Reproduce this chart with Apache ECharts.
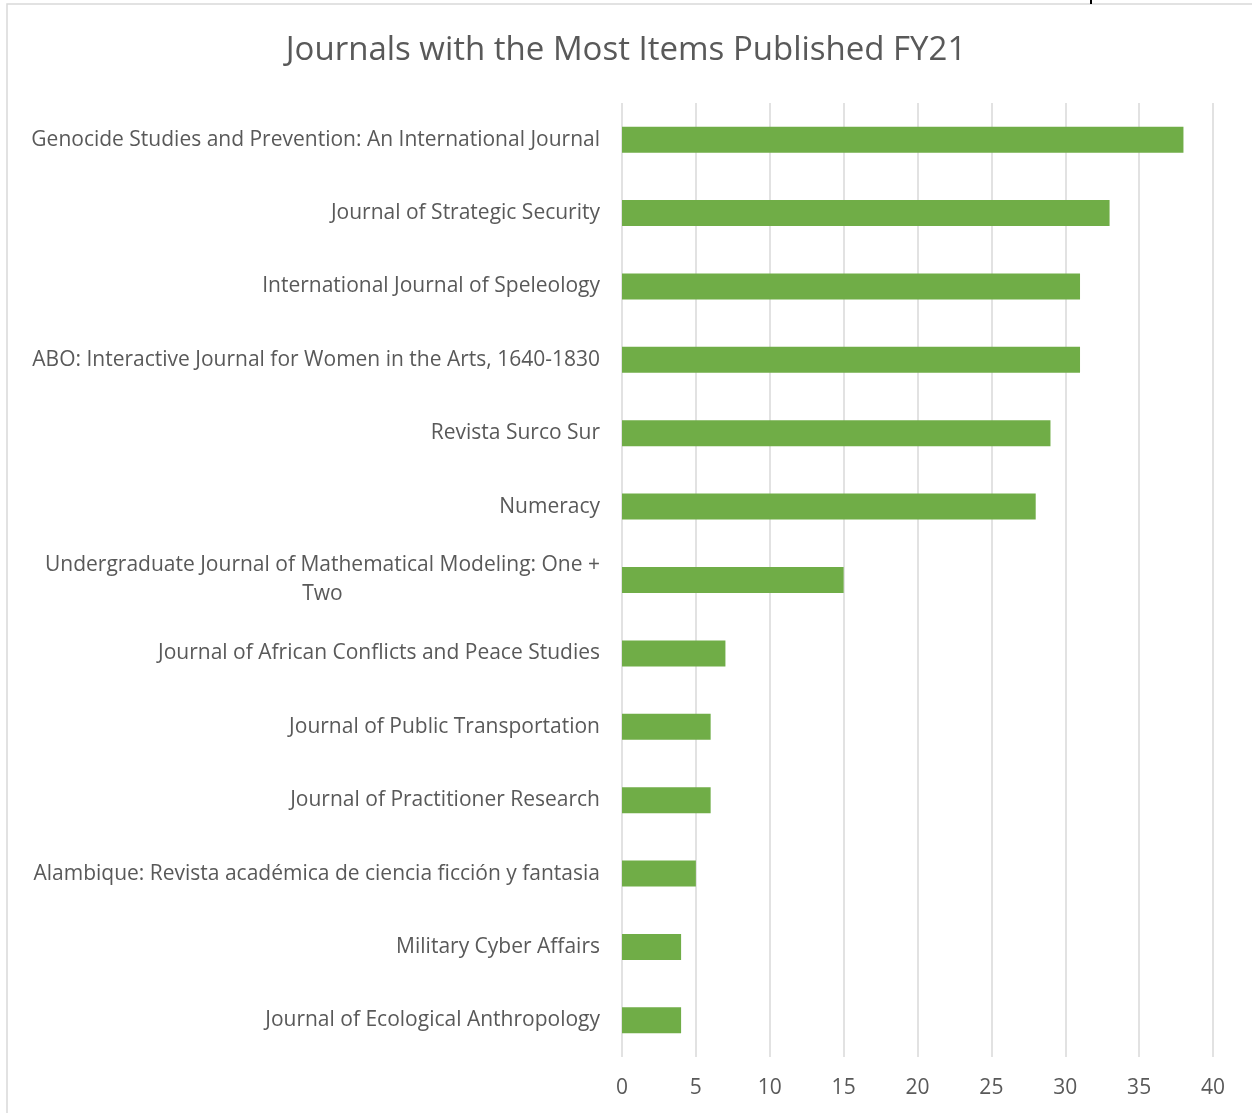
<!DOCTYPE html>
<html>
<head>
<meta charset="utf-8">
<script src="https://cdn.jsdelivr.net/npm/echarts@6/dist/echarts.min.js"></script>
<style>
html, body { margin: 0; padding: 0; background: #fff; }
#main { width: 1252px; height: 1113px; }
</style>
</head>
<body>
<div id="main"></div>
<script>
var journals = [
    'Genocide Studies and Prevention: An International Journal',
    'Journal of Strategic Security',
    'International Journal of Speleology',
    'ABO: Interactive Journal for Women in the Arts, 1640-1830',
    'Revista Surco Sur',
    'Numeracy',
    'Undergraduate Journal of Mathematical Modeling: One +\nTwo',
    'Journal of African Conflicts and Peace Studies',
    'Journal of Public Transportation',
    'Journal of Practitioner Research',
    'Alambique: Revista académica de ciencia ficción y fantasia',
    'Military Cyber Affairs',
    'Journal of Ecological Anthropology'
];
var items = [38, 33, 31, 31, 29, 28, 15, 7, 6, 6, 5, 4, 4];

var textColor = '#595959';
var gridColor = '#D9D9D9';
var font = '"Open Sans", sans-serif';

echarts.init(document.getElementById('main')).setOption({
    animation: false,
    title: {
        text: 'Journals with the Most Items Published FY21',
        left: 'center',
        top: 29,
        textStyle: {
            color: textColor,
            fontSize: 33,
            fontWeight: 'normal',
            fontFamily: font
        }
    },
    graphic: [{
        type: 'polyline',
        shape: { points: [[7, 1113], [7, 4], [1252, 4]] },
        style: { stroke: gridColor, lineWidth: 1.5, fill: null }
    }, {
        type: 'line',
        shape: { x1: 1091, y1: 0, x2: 1091, y2: 4 },
        style: { stroke: '#000', lineWidth: 2 }
    }],
    grid: {
        left: 622,
        right: 39,
        top: 103,
        bottom: 56
    },
    xAxis: {
        type: 'value',
        min: 0,
        max: 40,
        interval: 5,
        axisLine: { show: false },
        axisTick: { show: false },
        axisLabel: {
            color: textColor,
            fontSize: 21,
            fontFamily: font,
            margin: 21
        },
        splitLine: {
            lineStyle: { color: gridColor, width: 1.5 }
        }
    },
    yAxis: {
        type: 'category',
        inverse: true,
        data: journals,
        axisLine: { show: false },
        axisTick: { show: false },
        axisLabel: {
            margin: 22,
            formatter: function (v) {
                return v.split('\n').map(function (s) { return '{c|' + s + '}'; }).join('\n');
            },
            rich: {
                c: {
                    color: textColor,
                    fontSize: 21,
                    fontFamily: font,
                    lineHeight: 29,
                    align: 'center'
                }
            }
        }
    },
    series: [{
        type: 'bar',
        data: items,
        barWidth: 26,
        itemStyle: { color: '#70AD47' }
    }]
});
</script>
</body>
</html>
